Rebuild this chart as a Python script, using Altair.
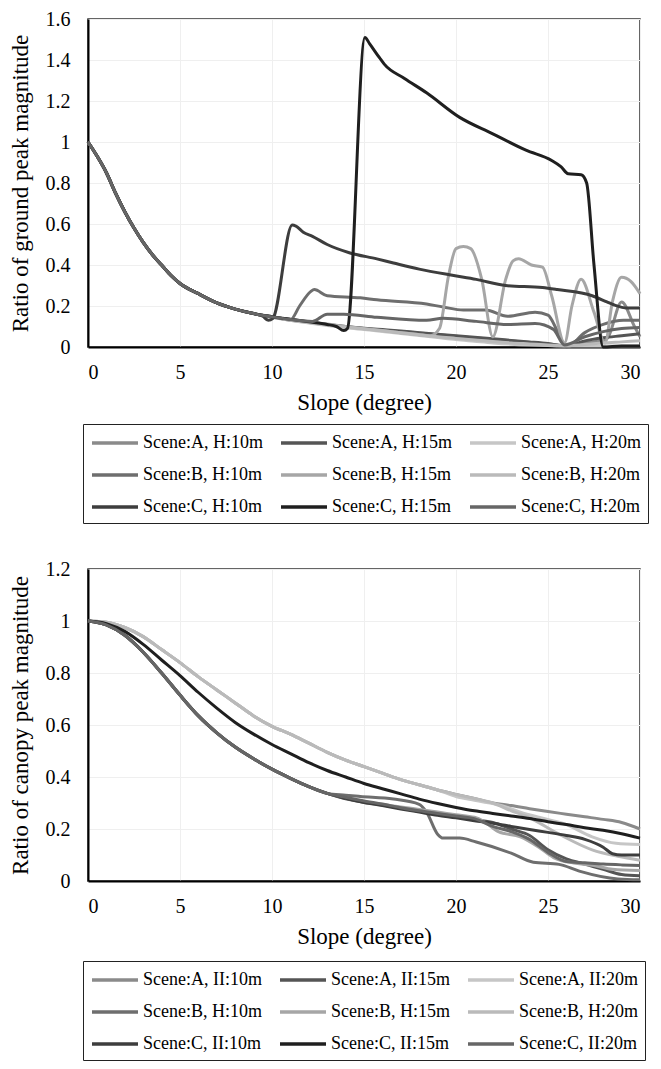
import altair as alt
import pandas as pd

FONT = "Liberation Serif"

# ---------------- legend labels / colours ----------------
ground_labels = ["Scene:A, H:10m", "Scene:A, H:15m", "Scene:A, H:20m",
                 "Scene:B, H:10m", "Scene:B, H:15m", "Scene:B, H:20m",
                 "Scene:C, H:10m", "Scene:C, H:15m", "Scene:C, H:20m"]
canopy_labels = ["Scene:A, II:10m", "Scene:A, II:15m", "Scene:A, II:20m",
                 "Scene:B, H:10m", "Scene:B, H:15m", "Scene:B, H:20m",
                 "Scene:C, II:10m", "Scene:C, II:15m", "Scene:C, II:20m"]
line_colors = ["#8a8a8a", "#555555", "#c6c6c6",
               "#6e6e6e", "#a6a6a6", "#bababa",
               "#3d3d3d", "#1f1f1f", "#666666"]

# ---------------- ground peak (top chart) ----------------
g_base_x = [0, 0.5, 1, 1.5, 2, 2.5, 3, 3.5, 4, 4.5, 5, 6, 7, 8, 9]
g_base_y = [1.0, 0.93, 0.85, 0.75, 0.66, 0.58, 0.51, 0.45, 0.40, 0.35, 0.31, 0.26, 0.215, 0.185, 0.163]

g_A10_x = [10, 11, 12, 13, 14, 15, 16, 17, 18, 19, 20, 21, 22, 23, 24, 25, 26.0, 27, 28.2, 29.0, 29.7, 30]
g_A10_y = [0.146, 0.132, 0.12, 0.108, 0.098, 0.09, 0.082, 0.075, 0.068, 0.06, 0.052, 0.045, 0.038, 0.03,
           0.022, 0.015, 0.005, 0.02, 0.04, 0.22, 0.10, 0.05]
g_A15_x = [10, 11, 12, 13, 14, 15, 16, 17, 18, 19, 20, 21, 22, 23, 24, 25, 26, 27, 28, 29, 30]
g_A15_y = [0.147, 0.134, 0.122, 0.11, 0.1, 0.092, 0.085, 0.078, 0.07, 0.062, 0.055, 0.047, 0.04, 0.032,
           0.025, 0.017, 0.005, 0.03, 0.045, 0.055, 0.065]
g_A20_x = [10, 11, 12, 13, 14, 15, 16, 17, 18, 19, 20, 21, 22, 23, 24, 25, 26, 27, 28, 29, 30]
g_A20_y = [0.145, 0.13, 0.117, 0.105, 0.094, 0.085, 0.076, 0.066, 0.056, 0.046, 0.036, 0.028, 0.02, 0.014,
           0.01, 0.007, 0.005, 0.005, 0.005, 0.005, 0.005]
g_B10_x = [10, 11.0, 11.5, 12.1, 12.3, 13.0, 14.8, 15.7, 18.4, 19.3, 20.4, 21.6, 22.8, 24.3, 25.0, 25.5,
           26.0, 27.0, 28.0, 29.1, 30]
g_B10_y = [0.148, 0.132, 0.2, 0.27, 0.28, 0.25, 0.24, 0.23, 0.21, 0.195, 0.18, 0.18, 0.15, 0.17, 0.155,
           0.08, 0.0, 0.07, 0.11, 0.13, 0.13]
g_B15_x = [10, 11, 12, 13, 14, 15, 16, 17, 18, 18.6, 19.1, 19.6, 20.0, 20.4, 20.8, 21.4, 22.0, 22.7, 23.1,
           23.4, 24.1, 24.7, 25.2, 25.9, 26.3, 26.8, 27.5, 28.1, 28.5, 29.0, 29.5, 30]
g_B15_y = [0.146, 0.133, 0.122, 0.112, 0.1, 0.09, 0.08, 0.07, 0.06, 0.055, 0.09, 0.35, 0.48, 0.49, 0.48,
           0.33, 0.05, 0.33, 0.42, 0.43, 0.40, 0.39, 0.25, 0.02, 0.2, 0.33, 0.17, 0.02, 0.22, 0.34, 0.32, 0.26]
g_B20_x = [10, 11, 12, 13, 14, 15, 16, 17, 18, 19, 20, 21, 22, 23, 24, 25, 26, 27, 28, 29, 30]
g_B20_y = [0.146, 0.131, 0.119, 0.108, 0.097, 0.088, 0.079, 0.07, 0.06, 0.05, 0.042, 0.034, 0.027, 0.02,
           0.015, 0.01, 0.006, 0.012, 0.02, 0.025, 0.03]
g_C10_x = [9.5, 9.8, 10.05, 11.1, 11.3, 11.7, 12.2, 13.0, 14.2, 15.7, 16.6, 18.0, 19.8, 21.1, 22.7, 24.7,
           25.5, 27.4, 28.2, 28.6, 29.3, 30]
g_C10_y = [0.15, 0.13, 0.14, 0.595, 0.59, 0.56, 0.54, 0.50, 0.46, 0.43, 0.41, 0.38, 0.35, 0.33, 0.30, 0.29,
           0.28, 0.25, 0.22, 0.205, 0.19, 0.19]
g_C15_x = [10, 11, 12, 13, 13.5, 13.9, 14.1, 15.05, 15.3, 15.85, 16.1, 17.2, 18.4, 20.2, 22.0, 23.8, 25.2,
           25.7, 26.1, 26.8, 27.1, 27.5, 28.0, 29, 30]
g_C15_y = [0.148, 0.135, 0.123, 0.11, 0.10, 0.08, 0.09, 1.51, 1.48, 1.41, 1.38, 1.31, 1.24, 1.12, 1.04,
           0.96, 0.91, 0.88, 0.845, 0.84, 0.80, 0.40, 0.0, 0.005, 0.005]
g_C20_x = [10, 11, 12.2, 13.0, 13.9, 15.7, 18.4, 19.3, 21.1, 22.8, 24.3, 25.3, 25.9, 27, 28, 29, 30]
g_C20_y = [0.147, 0.134, 0.125, 0.16, 0.16, 0.145, 0.13, 0.14, 0.125, 0.11, 0.115, 0.086, 0.01, 0.05,
           0.075, 0.09, 0.095]

ground_series = [(g_A10_x, g_A10_y), (g_A15_x, g_A15_y), (g_A20_x, g_A20_y),
                 (g_B10_x, g_B10_y), (g_B15_x, g_B15_y), (g_B20_x, g_B20_y),
                 (g_C10_x, g_C10_y), (g_C15_x, g_C15_y), (g_C20_x, g_C20_y)]

# ---------------- canopy peak (bottom chart) ----------------
c_upper_x = [0, 1, 2, 3, 4, 5, 6, 7, 8, 9, 10, 11, 12, 13, 14, 15, 16, 17, 18, 19]
c_upper_y = [1.0, 0.995, 0.975, 0.94, 0.89, 0.84, 0.785, 0.735, 0.685, 0.635, 0.595, 0.565, 0.53, 0.495,
             0.465, 0.44, 0.415, 0.39, 0.37, 0.35]
c_lower_x = [0, 1, 2, 3, 4, 5, 6, 7, 8, 9, 10, 11, 12, 13]
c_lower_y = [1.0, 0.985, 0.945, 0.88, 0.80, 0.715, 0.635, 0.57, 0.515, 0.47, 0.43, 0.395, 0.363, 0.337]

c_A10_x = [20, 21, 22, 23, 24, 25, 26, 27, 28, 29, 30]
c_A10_y = [0.333, 0.317, 0.30, 0.29, 0.278, 0.267, 0.257, 0.247, 0.237, 0.225, 0.20]
c_A20_x = [20, 21, 22.5, 23.5, 24.5, 25.9, 27.4, 28.7, 30]
c_A20_y = [0.325, 0.31, 0.29, 0.265, 0.245, 0.22, 0.17, 0.145, 0.14]
c_B20_x = [20, 21, 22, 23, 23.8, 25.6, 27.4, 28.8, 30]
c_B20_y = [0.333, 0.317, 0.30, 0.27, 0.25, 0.18, 0.12, 0.095, 0.08]
c_C15_x = [0, 1, 2, 3, 4, 5, 6, 7, 8, 9, 10, 11, 12, 13, 14, 15, 16, 17, 18, 19, 20, 21, 22, 23, 24, 25,
           26, 27, 28, 29, 30]
c_C15_y = [1.0, 0.99, 0.96, 0.91, 0.85, 0.79, 0.725, 0.665, 0.61, 0.565, 0.525, 0.49, 0.455, 0.425, 0.40,
           0.375, 0.355, 0.335, 0.315, 0.298, 0.283, 0.27, 0.26, 0.25, 0.24, 0.228, 0.217, 0.205, 0.195,
           0.182, 0.165]
c_C10_x = [14, 15, 16, 17, 18, 19, 20, 21, 22, 23, 24, 25, 26, 27, 28, 28.5, 29, 30]
c_C10_y = [0.318, 0.302, 0.29, 0.277, 0.265, 0.253, 0.243, 0.232, 0.222, 0.21, 0.198, 0.187, 0.175, 0.16,
           0.13, 0.105, 0.1, 0.1]
c_B10_x = [14, 14.8, 16.6, 18.0, 18.4, 19.0, 19.3, 20.2, 21.1, 23.0, 24.2, 25.6, 26.7, 28.8, 30]
c_B10_y = [0.33, 0.325, 0.315, 0.295, 0.265, 0.18, 0.165, 0.165, 0.15, 0.107, 0.072, 0.064, 0.038, 0.008,
           0.005]
c_B15_x = [14, 15, 16, 17, 18, 19, 20, 21, 21.5, 22.3, 23.5, 24.5, 25.3, 26.5, 27.5, 28.5, 30]
c_B15_y = [0.32, 0.306, 0.294, 0.285, 0.275, 0.265, 0.255, 0.245, 0.23, 0.19, 0.17, 0.13, 0.09, 0.068,
           0.06, 0.045, 0.04]
c_C20_x = [14, 15, 16, 17, 18, 19, 20, 21, 22, 23, 24, 25, 26, 27, 28, 29, 30]
c_C20_y = [0.322, 0.308, 0.296, 0.282, 0.27, 0.26, 0.25, 0.24, 0.21, 0.19, 0.16, 0.11, 0.075, 0.07, 0.065,
           0.062, 0.06]
c_A15_x = [14, 15, 16, 17, 18, 19, 20, 21, 22, 23, 24, 25, 26, 27, 28, 29, 30]
c_A15_y = [0.316, 0.303, 0.292, 0.28, 0.268, 0.256, 0.246, 0.236, 0.225, 0.20, 0.175, 0.12, 0.085, 0.065,
           0.045, 0.025, 0.02]

canopy_series = [
    (c_upper_x + c_A10_x, c_upper_y + c_A10_y),
    (c_lower_x + c_A15_x, c_lower_y + c_A15_y),
    (c_upper_x + c_A20_x, c_upper_y + c_A20_y),
    (c_lower_x + c_B10_x, c_lower_y + c_B10_y),
    (c_lower_x + c_B15_x, c_lower_y + c_B15_y),
    (c_upper_x + c_B20_x, c_upper_y + c_B20_y),
    (c_lower_x + c_C10_x, c_lower_y + c_C10_y),
    (c_C15_x, c_C15_y),
    (c_lower_x + c_C20_x, c_lower_y + c_C20_y),
]


def build_df(labels, series, base=None):
    rows = []
    for lab, (xs, ys) in zip(labels, series):
        if base is not None:
            xs = base[0] + xs
            ys = base[1] + ys
        for i, (xv, yv) in enumerate(zip(xs, ys)):
            rows.append({"slope": xv, "ratio": yv, "series": lab, "order": i})
    return pd.DataFrame(rows)


ground_df = build_df(ground_labels, ground_series, base=(g_base_x, g_base_y))
canopy_df = build_df(canopy_labels, canopy_series)

x_ticks = [0, 5, 10, 15, 20, 25, 30]

# long horizontal stroke starting at the symbol slot and running to the right
LEGEND_SYMBOL = "M-1,0H3.6"


def panel(df, labels, ytitle, ymax, yvals, w, h, lx, ly):
    legend = alt.Legend(
        title=None, orient="none", legendX=lx, legendY=ly, columns=3, direction="horizontal",
        symbolType=LEGEND_SYMBOL, symbolSize=400, symbolStrokeWidth=3.5,
        labelFont=FONT, labelFontSize=18, labelColor="black", labelOffset=29,
        columnPadding=11, rowPadding=11, padding=7, strokeColor="#222",
        symbolLimit=0, labelLimit=0)
    return alt.Chart(df).mark_line(strokeWidth=3, interpolate="monotone").encode(
        x=alt.X("slope:Q", scale=alt.Scale(domain=[0, 30], nice=False),
                axis=alt.Axis(values=x_ticks, title="Slope (degree)", labelPadding=15, titlePadding=9)),
        y=alt.Y("ratio:Q", scale=alt.Scale(domain=[0, ymax], nice=False),
                axis=alt.Axis(values=yvals, format="~g", title=ytitle, labelPadding=18, titlePadding=13)),
        color=alt.Color("series:N", scale=alt.Scale(domain=labels, range=line_colors), legend=legend),
        order="order:Q",
    ).properties(width=w, height=h)


top = panel(ground_df, ground_labels, "Ratio of ground peak magnitude", 1.6,
            [0, 0.2, 0.4, 0.6, 0.8, 1.0, 1.2, 1.4, 1.6], 552, 328, -5, 405)
bottom = panel(canopy_df, canopy_labels, "Ratio of canopy peak magnitude", 1.2,
               [0, 0.2, 0.4, 0.6, 0.8, 1.0, 1.2], 552, 312, -5, 392)

chart = alt.vconcat(top, bottom, spacing=33).resolve_scale(color="independent").resolve_legend(
    color="independent"
).properties(padding={"left": 0, "top": 0, "right": 0, "bottom": 0}).configure_axis(
    labelFont=FONT, labelFontSize=20, labelColor="black",
    titleFont=FONT, titleFontSize=23, titleFontWeight="normal", titleColor="black",
    ticks=False, domainColor="black", domainWidth=2,
    grid=True, gridColor="#efefef", gridWidth=1,
).configure_view(stroke="#333", strokeWidth=1.5)

chart.save("out.html", embed_options={"renderer": "svg", "actions": False})
